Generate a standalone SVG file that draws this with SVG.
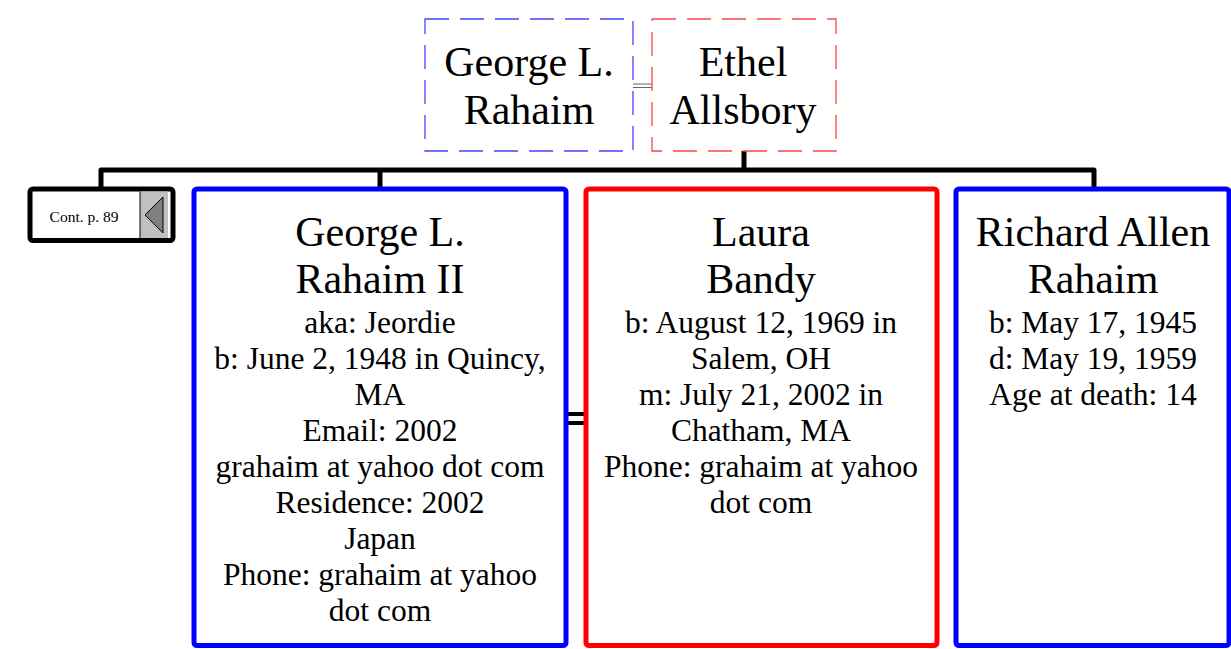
<svg xmlns="http://www.w3.org/2000/svg" width="1231" height="649" viewBox="0 0 1231 649">
<style>
text{font-family:"Liberation Serif","Times New Roman",serif;fill:#000;text-anchor:middle}
.t{font-size:42px}
.d{font-size:31.5px}
.m{fill:#fff;stroke-width:5}
.dash{fill:#fff;stroke-width:1.3;stroke-dasharray:24,11}
.conn{fill:none;stroke:#000;stroke-width:5;stroke-linejoin:round}
</style>
<rect width="1231" height="649" fill="#fff"/>
<g id="connectors">
<path class="conn" d="M101,187 V170 H1094 V187"/>
<path class="conn" d="M380,170 V187"/>
<path class="conn" d="M744,151 V170"/>
<path d="M633,84 H652 M633,87.5 H652" stroke="#666" stroke-width="1" fill="none"/>
<path d="M568,414 H584 M568,423 H584" stroke="#000" stroke-width="4" fill="none"/>
</g>
<g id="george-sr">
<rect class="dash" x="425" y="19" width="208" height="132" stroke="#4444ff"/>
<text class="t" x="529" y="76">George L.</text>
<text class="t" x="529" y="124">Rahaim</text>
</g>
<g id="ethel">
<rect class="dash" x="652" y="19" width="184" height="132" stroke="#ff4444"/>
<text class="t" x="743" y="76">Ethel</text>
<text class="t" x="743" y="124">Allsbory</text>
</g>
<g id="cont">
<rect x="30" y="189" width="143" height="51.5" rx="3" fill="#fff" stroke="#000" stroke-width="5"/>
<rect x="140" y="191.5" width="28" height="46.5" fill="#c0c0c0"/>
<line x1="140" y1="191.5" x2="140" y2="238" stroke="#000" stroke-width="1"/>
<polygon points="145,215 163,197 163,233" fill="#808080" stroke="#000" stroke-width="1"/>
<text x="84" y="222" style="font-size:15.5px">Cont. p. 89</text>
</g>
<g id="george-ii">
<rect class="m" x="194" y="189" width="372" height="456.5" rx="3" stroke="#0000ff"/>
<text class="t" x="380" y="246">George L.</text>
<text class="t" x="380" y="293">Rahaim II</text>
<text class="d" x="380" y="333">aka: Jeordie</text>
<text class="d" x="380" y="369">b: June 2, 1948 in Quincy,</text>
<text class="d" x="380" y="405">MA</text>
<text class="d" x="380" y="441">Email: 2002</text>
<text class="d" x="380" y="477">grahaim at yahoo dot com</text>
<text class="d" x="380" y="513">Residence: 2002</text>
<text class="d" x="380" y="549">Japan</text>
<text class="d" x="380" y="585">Phone: grahaim at yahoo</text>
<text class="d" x="380" y="621">dot com</text>
</g>
<g id="laura">
<rect class="m" x="586" y="189" width="351" height="456.5" rx="3" stroke="#ff0000"/>
<text class="t" x="761" y="246">Laura</text>
<text class="t" x="761" y="293">Bandy</text>
<text class="d" x="761" y="333">b: August 12, 1969 in</text>
<text class="d" x="761" y="369">Salem, OH</text>
<text class="d" x="761" y="405">m: July 21, 2002 in</text>
<text class="d" x="761" y="441">Chatham, MA</text>
<text class="d" x="761" y="477">Phone: grahaim at yahoo</text>
<text class="d" x="761" y="513">dot com</text>
</g>
<g id="richard">
<rect class="m" x="956" y="189" width="273" height="456.5" rx="3" stroke="#0000ff"/>
<text class="t" x="1093" y="246">Richard Allen</text>
<text class="t" x="1093" y="293">Rahaim</text>
<text class="d" x="1093" y="333">b: May 17, 1945</text>
<text class="d" x="1093" y="369">d: May 19, 1959</text>
<text class="d" x="1093" y="405">Age at death: 14</text>
</g>
</svg>
